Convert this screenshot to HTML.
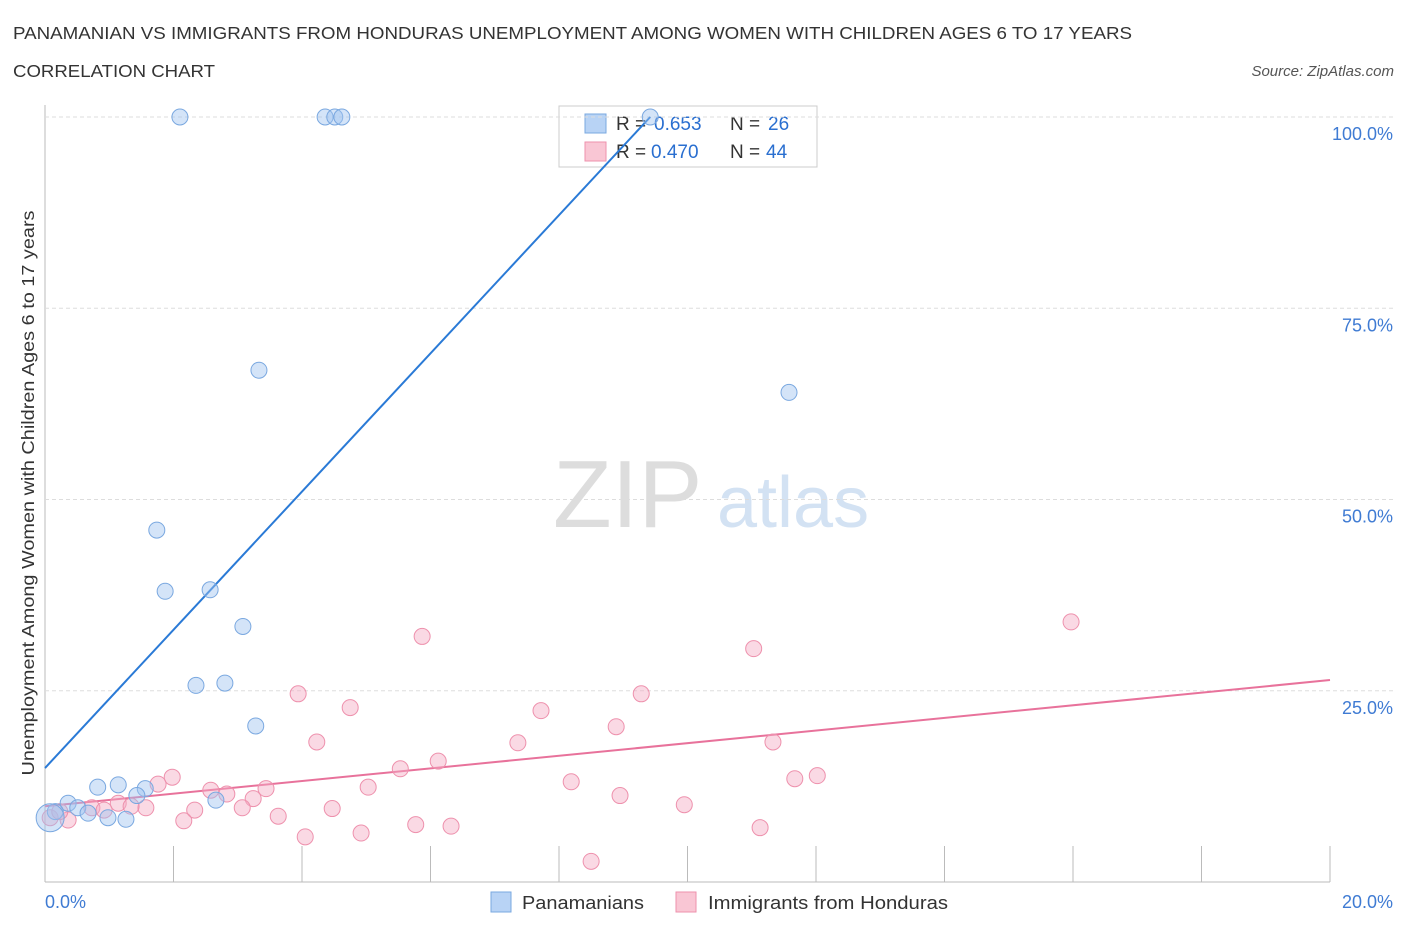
<!DOCTYPE html>
<html><head><meta charset="utf-8"><style>
body{margin:0;background:#fff;font-family:"Liberation Sans",sans-serif;}
svg text{font-family:"Liberation Sans",sans-serif;}
</style></head><body>
<svg id="chart" width="1406" height="930" xmlns="http://www.w3.org/2000/svg">
<text x="13" y="39" font-size="17.5" fill="#333" textLength="1119" lengthAdjust="spacingAndGlyphs">PANAMANIAN VS IMMIGRANTS FROM HONDURAS UNEMPLOYMENT AMONG WOMEN WITH CHILDREN AGES 6 TO 17 YEARS</text>
<text x="13" y="77" font-size="17.5" fill="#333" textLength="202" lengthAdjust="spacingAndGlyphs">CORRELATION CHART</text>
<text x="1394" y="76" font-size="15" font-style="italic" fill="#555" text-anchor="end">Source: ZipAtlas.com</text>
<text x="553" y="527" font-size="96" font-family="Liberation Serif" fill="#ddd">ZIP</text>
<text x="717" y="527" font-size="72" fill="#d3e2f3">atlas</text>
<text transform="translate(34,493) rotate(-90)" font-size="17.5" fill="#333" text-anchor="middle" textLength="565" lengthAdjust="spacingAndGlyphs">Unemployment Among Women with Children Ages 6 to 17 years</text>
<g>
<rect x="559" y="106" width="258" height="61" fill="#fff" stroke="#ccc"/>
<rect x="585" y="114" width="21" height="19" fill="#b8d3f5" stroke="#7aa8e0"/>
<text x="616" y="130" font-size="19" fill="#333">R =</text>
<text x="654" y="130" font-size="19" fill="#2a6fd0">0.653</text>
<text x="730" y="130" font-size="19" fill="#333">N =</text>
<text x="768" y="130" font-size="19" fill="#2a6fd0">26</text>
<rect x="585" y="142" width="21" height="19" fill="#f9c6d4" stroke="#ee91ad"/>
<text x="616" y="158" font-size="19" fill="#333">R =</text>
<text x="651" y="158" font-size="19" fill="#2a6fd0">0.470</text>
<text x="730" y="158" font-size="19" fill="#333">N =</text>
<text x="766" y="158" font-size="19" fill="#2a6fd0">44</text>
</g>
<g>
<rect x="491" y="892" width="20" height="20" fill="#b8d3f5" stroke="#7aa8e0"/>
<text x="522" y="909" font-size="18" fill="#333" textLength="122" lengthAdjust="spacingAndGlyphs">Panamanians</text>
<rect x="676" y="892" width="20" height="20" fill="#f9c6d4" stroke="#ee91ad"/>
<text x="708" y="909" font-size="18" fill="#333" textLength="240" lengthAdjust="spacingAndGlyphs">Immigrants from Honduras</text>
</g>
<g id="grid"></g><g id="lines"></g><g id="pts"></g>
</svg>
<script>
const xTicks=[0,2,4,6,8,10,12,14,16,18,20];
const yTicks=[25,50,75,100];
const blueX=[2.10,4.36,4.51,4.62,9.42,3.33,11.58,1.74,1.87,2.57,3.08,2.35,2.80,3.28,0.82,1.14,1.56,1.43,2.66,0.36,0.51,0.67,0.98,1.26,0.16,0.08];
const blueY=[100,100,100,100,100,66.9,64.0,46.0,38.0,38.2,33.4,25.7,26.0,20.4,12.4,12.7,12.2,11.3,10.7,10.3,9.7,9.0,8.4,8.2,9.2,8.4];
const pinkX=[5.87,15.97,11.03,3.94,9.28,4.75,7.72,8.89,4.23,7.36,11.33,6.12,5.53,1.98,12.02,11.67,1.76,5.03,8.19,3.44,2.58,2.83,3.24,8.95,1.14,1.57,9.95,4.47,2.33,3.07,0.73,1.34,0.92,3.63,2.16,0.36,5.77,6.32,4.92,4.05,11.13,8.50,0.08,0.23];
const pinkY=[32.1,34.0,30.5,24.6,24.6,22.8,22.4,20.3,18.3,18.2,18.3,15.8,14.8,13.7,13.9,13.5,12.8,12.4,13.1,12.2,12.0,11.5,10.9,11.3,10.3,9.7,10.1,9.6,9.4,9.7,9.7,9.9,9.4,8.6,8.0,8.1,7.5,7.3,6.4,5.9,7.1,2.7,8.4,9.2];
const blueLine=[[0,14.9],[9.42,100]];
const pinkLine=[[0,9.9],[20,26.4]];
const X=v=>45+v*64.25, Y=v=>882-v*7.65;
const NS="http://www.w3.org/2000/svg";
function mk(tag,attrs,parent){const e=document.createElementNS(NS,tag);for(const k in attrs)e.setAttribute(k,attrs[k]);document.getElementById(parent).appendChild(e);return e;}
const ax=mk('line',{x1:45,y1:882,x2:1330,y2:882,stroke:'#bbb'},'grid');


const ay=mk('line',{x1:45,y1:105,x2:45,y2:882,stroke:'#bbb'},'grid');


xTicks.forEach((t,i)=>{const l=mk('line',{x1:X(t),y1:846,x2:X(t),y2:882,stroke:'#bbb'},'grid');

});
[[0,'0.0%','start',45],[20,'20.0%','end',1393]].forEach(a=>{const t=mk('text',{x:a[3],y:908,'font-size':18,fill:'#3f7bd3','text-anchor':a[2]},'grid');t.textContent=a[1];

});
yTicks.forEach(v=>{const l=mk('line',{x1:45,y1:Y(v),x2:1393,y2:Y(v),stroke:'#ddd','stroke-dasharray':'4,3'},'grid');


const t=mk('text',{x:1393,y:Y(v)+23,'font-size':18,fill:'#3f7bd3','text-anchor':'end'},'grid');t.textContent=v.toFixed(1)+'%';

});
const bl=mk('line',{x1:X(blueLine[0][0]),y1:Y(blueLine[0][1]),x2:X(blueLine[1][0]),y2:Y(blueLine[1][1]),stroke:'#2a7ad6','stroke-width':2},'lines');


const pl=mk('line',{x1:X(pinkLine[0][0]),y1:Y(pinkLine[0][1]),x2:X(pinkLine[1][0]),y2:Y(pinkLine[1][1]),stroke:'#e8729b','stroke-width':2},'lines');


pinkX.forEach((x,i)=>{const c=mk('circle',{cx:X(x),cy:Y(pinkY[i]),r:8,fill:'rgba(245,170,195,0.45)',stroke:'#ee91ad','stroke-width':1},'pts');

});
blueX.forEach((x,i)=>{const c=mk('circle',{cx:X(x),cy:Y(blueY[i]),r:i==25?14:8,fill:'rgba(160,195,240,0.45)',stroke:'#7aa8e0','stroke-width':1},'pts');

});
</script>
</body></html>
